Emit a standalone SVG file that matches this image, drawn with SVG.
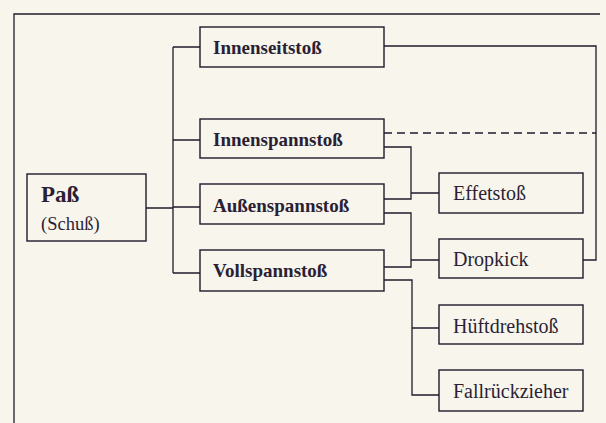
<svg xmlns="http://www.w3.org/2000/svg" width="606" height="423" viewBox="0 0 606 423">
<style>
.bx{fill:none;stroke:#1e1a2c;stroke-width:1.4}
.ln{fill:none;stroke:#1e1a2c;stroke-width:1.3}
.b{font-family:"Liberation Serif",serif;font-weight:bold;font-size:19px;fill:#2a1f35}
.r{font-family:"Liberation Serif",serif;font-size:20px;fill:#2a1f35}
</style>
<rect x="0" y="0" width="606" height="423" fill="#f8f5ec"/>
<path class="ln" d="M14,423 V14 H600" stroke-width="1.6"/>
<g id="connectors">
<path class="ln" d="M146,208 H173 M173,47 V273 M173,47 H200 M173,140 H200 M173,207 H200 M173,273 H200"/>
<path class="ln" d="M384,46 H596 V260 H583"/>
<path class="ln" d="M384,133 H596" stroke-dasharray="8,5"/>
<path class="ln" d="M384,147 H411 V199 H384 M411,193 H439"/>
<path class="ln" d="M384,213 H411 V267 H384 M411,260 H439"/>
<path class="ln" d="M384,280 H412 V395 H439 M412,328 H439"/>
</g>
<g id="pass"><rect class="bx" x="27" y="174" width="119" height="67"/><text class="b" x="41" y="202" style="font-size:23px">Paß</text><text class="r" x="41" y="230" style="font-size:18.5px">(Schuß)</text></g>
<g id="innenseitstoss"><rect class="bx" x="200" y="27" width="184" height="40"/><text class="b" x="213" y="54">Innenseitstoß</text></g>
<g id="innenspannstoss"><rect class="bx" x="200" y="119" width="184" height="39"/><text class="b" x="213" y="146">Innenspannstoß</text></g>
<g id="aussenspannstoss"><rect class="bx" x="200" y="184" width="184" height="40"/><text class="b" x="213" y="212">Außenspannstoß</text></g>
<g id="vollspannstoss"><rect class="bx" x="200" y="250" width="184" height="41"/><text class="b" x="213" y="277">Vollspannstoß</text></g>
<g id="effetstoss"><rect class="bx" x="439" y="173" width="144" height="40"/><text class="r" x="453" y="200">Effetstoß</text></g>
<g id="dropkick"><rect class="bx" x="439" y="239" width="144" height="39"/><text class="r" x="453" y="266">Dropkick</text></g>
<g id="hueftdrehstoss"><rect class="bx" x="439" y="305" width="144" height="39"/><text class="r" x="453" y="333">Hüftdrehstoß</text></g>
<g id="fallrueckzieher"><rect class="bx" x="439" y="370" width="144" height="41"/><text class="r" x="453" y="398">Fallrückzieher</text></g>
</svg>
